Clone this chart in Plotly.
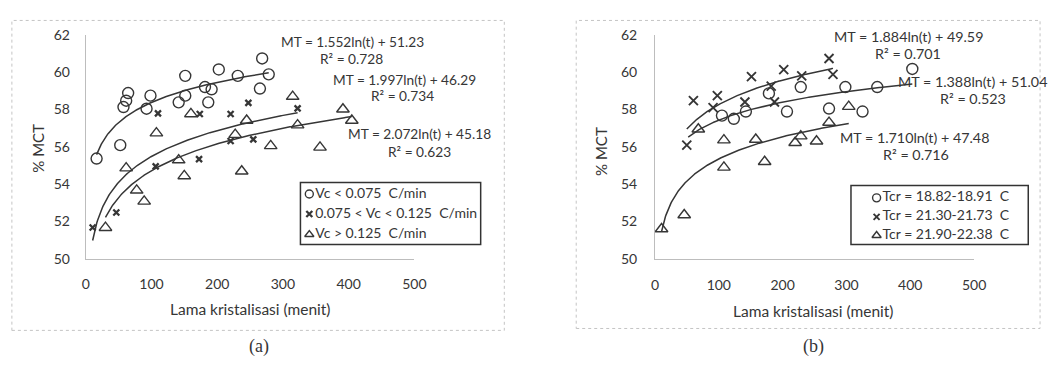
import numpy as np
import plotly.graph_objects as go

# ---------------- (a) grouped by cooling rate Vc ----------------
a_circle_t = [16.5, 52.5, 57.4, 61.5, 64.5, 92.5, 98.5, 141.4, 151.4, 151.4,
              181.4, 191.5, 186.4, 202.4, 231.3, 268.4, 278.4, 265.0]
a_circle_mt = [55.37, 56.09, 58.13, 58.47, 58.88, 58.04, 58.74, 58.38, 58.74, 59.80,
               59.20, 59.08, 58.38, 60.14, 59.80, 60.73, 59.88, 59.12]

a_cross_t = [10.5, 46.5, 106.4, 109.9, 172.4, 173.5, 220.4, 220.4, 247.4, 254.9, 322.3]
a_cross_mt = [51.68, 52.48, 54.95, 57.79, 55.34, 57.76, 57.76, 56.31, 58.35, 56.40, 58.06]

a_tri_t = [30.0, 61.5, 77.5, 88.9, 107.5, 141.4, 149.9, 160.0, 227.4, 237.3,
           244.8, 281.4, 314.8, 322.3, 356.4, 391.3, 404.8]
a_tri_mt = [51.67, 54.86, 53.67, 53.08, 56.73, 55.29, 54.44, 57.76, 56.65, 54.69,
            57.41, 56.05, 58.69, 57.16, 55.97, 58.01, 57.41]

a_names = ["Vc < 0.075  C/min", "0.075 < Vc < 0.125  C/min", "Vc > 0.125  C/min"]
# logarithmic fits MT = k*ln(t) + c  (circle, cross, triangle)
a_k = [1.552, 1.997, 2.072]
a_c = [51.23, 46.29, 45.18]
a_r2 = [0.728, 0.734, 0.623]
a_fit_range = [(16.5, 278.4), (10.5, 322.3), (30.0, 404.8)]

# ---------------- (b) grouped by crystallisation temperature Tcr ----------------
b_circle_t = [104.9, 123.5, 142.4, 178.5, 206.8, 228.4, 272.7, 298.3, 325.2, 348.3, 403.2]
b_circle_mt = [57.67, 57.50, 57.89, 58.86, 57.89, 59.20, 58.05, 59.20, 57.89, 59.20, 60.17]

b_cross_t = [49.8, 60.2, 91.0, 97.7, 140.9, 151.2, 182.1, 187.2, 201.7, 229.9, 272.7, 278.9]
b_cross_mt = [56.09, 58.47, 58.10, 58.74, 58.40, 59.76, 59.25, 58.40, 60.13, 59.80, 60.73, 59.88]

b_tri_t = [10.3, 45.8, 67.9, 108.0, 108.0, 157.9, 171.8, 219.6, 228.4, 253.1, 272.7, 303.6]
b_tri_mt = [51.60, 52.35, 56.94, 56.36, 54.90, 56.39, 55.20, 56.22, 56.57, 56.30, 57.30, 58.15]

b_names = ["Tcr = 18.82-18.91  C", "Tcr = 21.30-21.73  C", "Tcr = 21.90-22.38  C"]
b_k = [1.388, 1.884, 1.710]
b_c = [51.04, 49.59, 47.48]
b_r2 = [0.523, 0.701, 0.716]
b_fit_range = [(52.0, 403.2), (49.8, 278.9), (10.3, 303.6)]

x_ticks = [0, 100, 200, 300, 400, 500]
y_ticks = [50, 52, 54, 56, 58, 60, 62]

W, H = 1057, 367
INK = "#363636"
TXT = "#363636"
FONT = "Lato, 'Open Sans', sans-serif"


def px(x):
    return x / W


def py(y):
    return 1 - y / H


fig = go.Figure()

a_styles = [
    dict(symbol="circle-open", size=11, color=INK, line=dict(width=1.4, color=INK)),
    dict(symbol="x-thin-open", size=6, color=INK, line=dict(width=2.3, color=INK)),
    dict(symbol="triangle-up-open", size=11, color=INK, line=dict(width=1.4, color=INK)),
]
b_styles = [
    dict(symbol="circle-open", size=11, color=INK, line=dict(width=1.4, color=INK)),
    dict(symbol="x-thin-open", size=9, color=INK, line=dict(width=1.9, color=INK)),
    dict(symbol="triangle-up-open", size=11, color=INK, line=dict(width=1.4, color=INK)),
]


def add_panel(series, ks, cs, ranges, styles, xa, ya):
    for (t, mt), style in zip(series, styles):
        fig.add_trace(go.Scatter(
            x=t, y=mt, mode="markers", marker=style, showlegend=False,
            xaxis=xa, yaxis=ya, cliponaxis=False))
    for k, c, (t0, t1) in zip(ks, cs, ranges):
        tt = np.linspace(t0, t1, 300)
        fig.add_trace(go.Scatter(
            x=tt, y=k * np.log(tt) + c, mode="lines",
            line=dict(color=INK, width=1.5), showlegend=False,
            hoverinfo="skip", xaxis=xa, yaxis=ya))


add_panel([(a_circle_t, a_circle_mt), (a_cross_t, a_cross_mt), (a_tri_t, a_tri_mt)],
          a_k, a_c, a_fit_range, a_styles, "x", "y")
add_panel([(b_circle_t, b_circle_mt), (b_cross_t, b_cross_mt), (b_tri_t, b_tri_mt)],
          b_k, b_c, b_fit_range, b_styles, "x2", "y2")

# Legend boxes: drawn on a helper axis measured in page pixels
LEG_A = dict(box=(301, 484, 182, 247), mx=310, tx=316, rows=[194, 215, 236.5])
LEG_B = dict(box=(860, 1040, 185, 247), mx=886, tx=892, rows=[198, 218, 237.5])
for leg, names, styles in [(LEG_A, a_names, a_styles), (LEG_B, b_names, b_styles)]:
    for name, style, row in zip(names, styles, leg["rows"]):
        s = dict(style)
        s["size"] = max(6, style["size"] - 3)
        fig.add_trace(go.Scatter(
            x=[leg["mx"]], y=[row], mode="markers", marker=s, showlegend=False,
            xaxis="x3", yaxis="y3", hoverinfo="skip", cliponaxis=False))
        fig.add_trace(go.Scatter(
            x=[leg["tx"]], y=[row], mode="text", text=[name],
            textposition="middle right", showlegend=False,
            textfont=dict(family=FONT, size=14, color=TXT),
            xaxis="x3", yaxis="y3", hoverinfo="skip", cliponaxis=False))
    x0, x1, y0, y1 = leg["box"]
    fig.add_shape(type="rect", xref="x3", yref="y3", x0=x0, x1=x1, y0=y0, y1=y1,
                  line=dict(color="#333333", width=1.5))

axis_common = dict(showgrid=False, zeroline=False, showline=True,
                   linecolor="#bdbdbd", linewidth=1, ticks="",
                   tickfont=dict(family=FONT, size=14, color=TXT))

fig.update_layout(
    width=W, height=H,
    margin=dict(l=0, r=0, t=0, b=0),
    paper_bgcolor="white", plot_bgcolor="rgba(0,0,0,0)",
    font=dict(family=FONT, color=TXT),
    showlegend=False,
    xaxis=dict(domain=[px(83), px(416.7)], range=[0, 500], tickvals=x_ticks,
               anchor="y", ticklabelstandoff=12, **axis_common),
    yaxis=dict(domain=[py(262), py(27)], range=[50, 62], tickvals=y_ticks,
               anchor="x", ticklabelstandoff=12, **axis_common),
    xaxis2=dict(domain=[px(661), px(985)], range=[0, 500], tickvals=x_ticks,
                anchor="y2", ticklabelstandoff=13, **axis_common),
    yaxis2=dict(domain=[py(262), py(27)], range=[50, 62], tickvals=y_ticks,
                anchor="x2", ticklabelstandoff=14, **axis_common),
    xaxis3=dict(domain=[0, 1], range=[0, W], visible=False, anchor="y3"),
    yaxis3=dict(domain=[0, 1], range=[H, 0], visible=False, anchor="x3"),
)

# chart-area frames
for x0, x1, y0, y1 in [(8, 508, 12, 337), (581, 1052, 12, 335)]:
    fig.add_shape(type="rect", xref="paper", yref="paper",
                  x0=px(x0), x1=px(x1), y0=py(y1), y1=py(y0),
                  line=dict(color="#c4c4c4", width=1, dash="dot"), layer="below")

ann = []


def text(x, y, s, size=14, family=FONT, angle=0):
    ann.append(dict(x=px(x), y=py(y), xref="paper", yref="paper", text=s,
                    showarrow=False, xanchor="center", yanchor="middle",
                    textangle=angle, font=dict(family=family, size=size, color=TXT)))


# axis titles
text(35, 146, "% MCT", size=15, angle=-90)
text(606, 149, "% MCT", size=15, angle=-90)
text(250, 315, "Lama kristalisasi (menit)", size=15.5)
text(822, 317, "Lama kristalisasi (menit)", size=15.5)
# panel captions
text(259, 354, "(a)", size=18, family="'Liberation Serif', 'DejaVu Serif', serif")
text(822, 354, "(b)", size=18, family="'Liberation Serif', 'DejaVu Serif', serif")

# regression labels
a_label_pos = [((354, 34), (353, 52)), ((407, 74), (405, 91)), ((422, 131), (422, 149))]
for k, c, r2, (p1, p2) in zip(a_k, a_c, a_r2, a_label_pos):
    text(*p1, f"MT = {k:.3f}ln(t) + {c:.2f}", size=13.7)
    text(*p2, f"R² = {r2:.3f}", size=13.7)

b_label_pos = [((983, 76), (984, 94)), ((918, 29), (918, 47)), ((925, 135), (926, 153))]
for k, c, r2, (p1, p2) in zip(b_k, b_c, b_r2, b_label_pos):
    text(*p1, f"MT = {k:.3f}ln(t) + {c:.2f}", size=14.3)
    text(*p2, f"R² = {r2:.3f}", size=14.3)

fig.update_layout(annotations=ann)

fig.write_html("out.html")
